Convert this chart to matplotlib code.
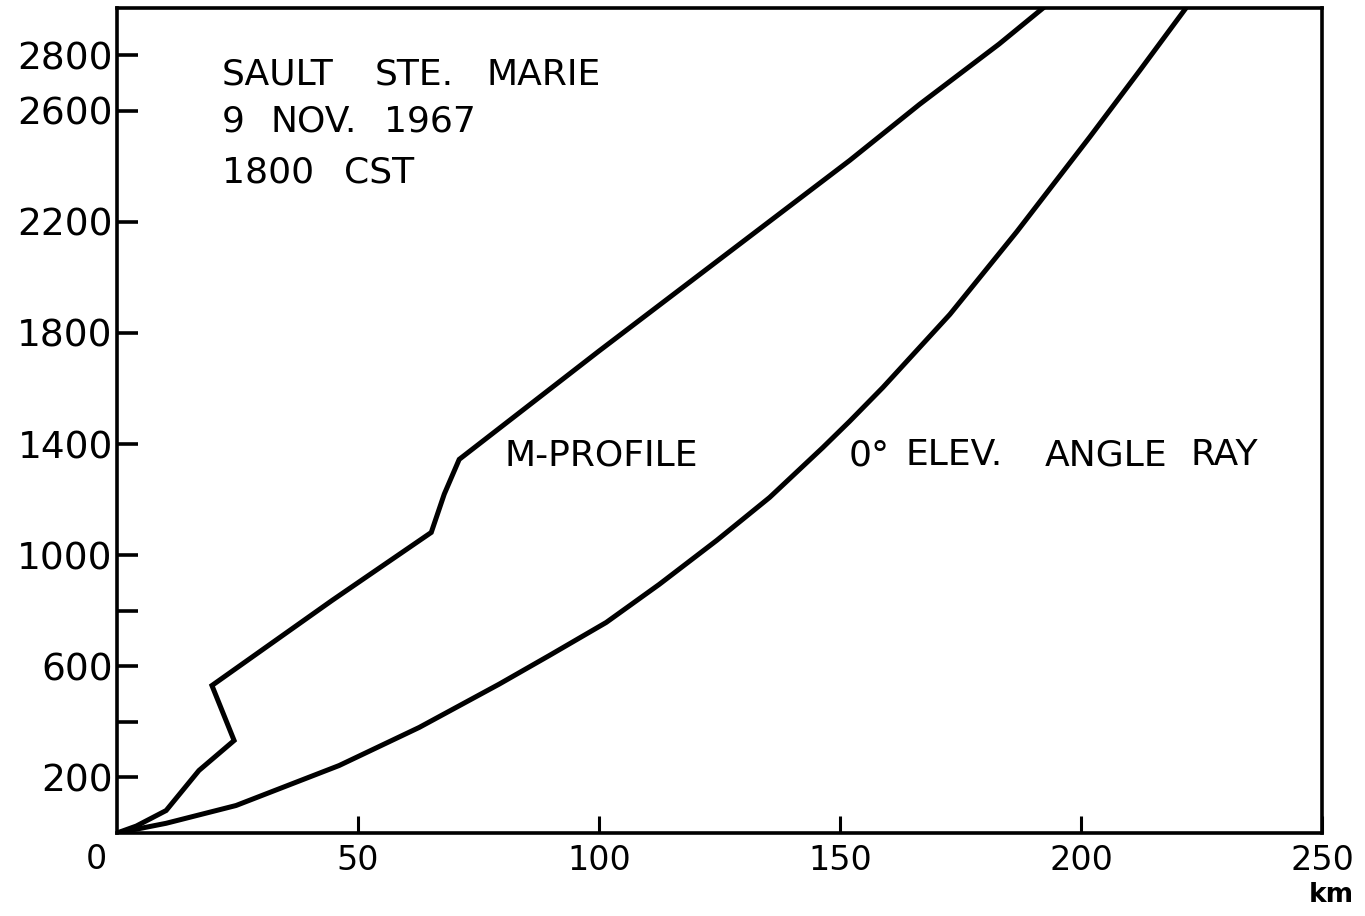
"""Sault Ste. Marie M-profile vs 0 deg elevation ray"""
import matplotlib
matplotlib.use('Agg')
import matplotlib.pyplot as plt

plt.rcParams['font.family'] = ['DejaVu Sans']

# M-profile (range km, height)
m_range = [0, 4, 10.2, 17, 24.3, 19.7, 44.6, 65.2, 67.9, 71, 100, 152, 166.5, 183, 192.5]
m_height = [0, 25, 81, 225, 333, 531, 837, 1082, 1220, 1345, 1735, 2421, 2623, 2840, 2975]

# 0 deg elevation angle ray
ray_range = [0, 10.2, 24.7, 46.1, 62.7, 79.3, 89.7, 101.5, 112.5, 124.4, 135.4, 146.4,
             152, 158.9, 172.8, 186.7, 201.8, 212.2, 222]
ray_height = [0, 35, 99, 243, 380, 536, 639, 758, 895, 1053, 1208, 1387,
              1482, 1604, 1867, 2165, 2505, 2745, 2975]

x_ticks = [50, 100, 150, 200, 250]
x_labels = ['50', '100', '150', '200', '250']
y_ticks = [200, 400, 600, 800, 1000, 1400, 1800, 2200, 2600, 2800]
y_labels = ['200', '', '600', '', '1000', '1400', '1800', '2200', '2600', '2800']

# words of the annotations with their left edge (axes fraction) and line height
header_words = [
    ('SAULT', 0.087, 0.919), ('STE.', 0.214, 0.919), ('MARIE', 0.307, 0.919),
    ('9', 0.087, 0.862), ('NOV.', 0.127, 0.862), ('1967', 0.222, 0.862),
    ('1800', 0.087, 0.800), ('CST', 0.188, 0.800),
]
curve_words = [
    ('M-PROFILE', 0.322, 0.458),
    ('0°', 0.607, 0.458), ('ELEV.', 0.654, 0.458), ('ANGLE', 0.770, 0.458), ('RAY', 0.8905, 0.458),
]

fig = plt.figure(figsize=(13.65, 9.16), dpi=100)
ax = fig.add_axes([0.0857, 0.0906, 0.8828, 0.9007])

ax.plot(m_range, m_height, color='black', linewidth=3.6, solid_joinstyle='miter')
ax.plot(ray_range, ray_height, color='black', linewidth=3.6)

ax.set_xlim(0, 250)
ax.set_ylim(0, 2970)

for s in ax.spines.values():
    s.set_linewidth(2.6)

ax.set_xticks(x_ticks)
ax.set_xticklabels(x_labels)
ax.set_yticks(y_ticks)
ax.set_yticklabels(y_labels)
ax.tick_params(axis='y', direction='in', length=15, width=2.6, labelsize=27, pad=3)
ax.tick_params(axis='x', direction='in', length=12, width=2.2, labelsize=24, pad=8)

# origin label sits left of the corner, km under 250
ax.text(-0.017, -0.032, '0', transform=ax.transAxes, fontsize=24, ha='center', va='center')
ax.text(1.008, -0.075, 'km', transform=ax.transAxes, fontsize=19, fontweight='bold',
        ha='center', va='center')

for word, x, y in header_words:
    ax.text(x, y, word, transform=ax.transAxes, fontsize=26, va='center')
for word, x, y in curve_words:
    ax.text(x, y, word, transform=ax.transAxes, fontsize=26, va='center')

plt.savefig('out.png', dpi=100)
